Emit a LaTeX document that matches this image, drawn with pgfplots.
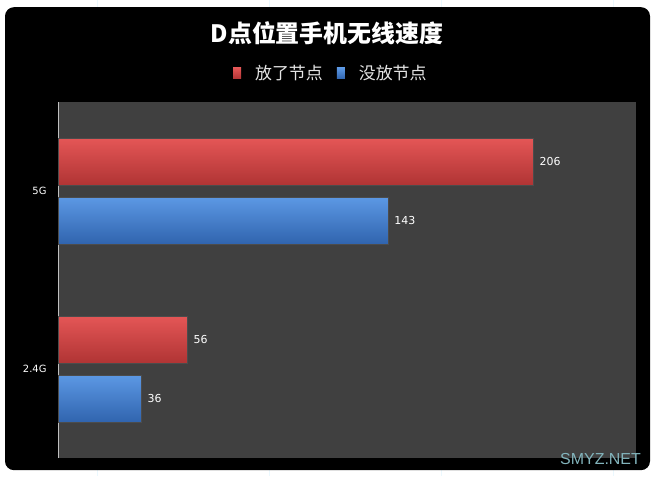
\documentclass[border=0pt]{standalone}
\usepackage{fontspec}
\setmainfont{DejaVu Sans}
\newfontfamily\cjk{Noto Sans CJK SC}
\newfontfamily\wmfont{Liberation Sans}
\usepackage{pgfplots}
\pgfplotsset{compat=1.18}
\definecolor{plotbg}{HTML}{404040}
\definecolor{redtop}{HTML}{E45656}
\definecolor{redmid}{HTML}{D64444}
\definecolor{redbot}{HTML}{B03434}
\definecolor{bluetop}{HTML}{5C98E4}
\definecolor{bluemid}{HTML}{4080D2}
\definecolor{bluebot}{HTML}{3064AE}
\definecolor{wmark}{HTML}{82B4BC}
\pgfplotsset{
    redbar/.style={bar shift=29.5bp, top color=redtop, middle color=redmid, bottom color=redbot, draw=black!70, line width=0.5pt},
    bluebar/.style={bar shift=-29.5bp, top color=bluetop, middle color=bluemid, bottom color=bluebot, draw=black!70, line width=0.5pt},
}
\begin{document}
\begin{tikzpicture}[x=1bp,y=1bp]
% sheet and chart area
\fill[white] (0,0) rectangle (655,476);
\foreach \gx in {97,269,441,613} \draw[cyan!8] (\gx,0) -- (\gx,476);
\fill[black, rounded corners=9bp] (5,6) rectangle (650,469);
\begin{axis}[
    at={(58bp,18bp)}, anchor=south west,
    scale only axis,
    width=578bp, height=356bp,
    xbar,
    xmin=0, xmax=250.6,
    ymin=-0.5, ymax=1.5,
    ytick={0,1},
    yticklabels={2.4G,5G},
    xtick=\empty,
    axis x line=none,
    axis y line*=left,
    y axis line style={black!25, line width=0.8pt},
    major tick length=0pt,
    yticklabel style={font=\fontsize{10}{12}\selectfont, white, xshift=-8bp},
    axis background/.style={fill=plotbg},
    bar width=47bp,
    /pgf/number format/assume math mode=true,
    nodes near coords,
    every node near coord/.append style={font=\fontsize{11}{13}\selectfont, white, xshift=3bp},
    legend style={at={(0.472,1.081)}, anchor=center, draw=none, fill=none,
        text=black!10, font=\cjk\fontsize{17}{20}\selectfont,
        legend columns=2, column sep=12bp},
    legend image code/.code={\path[#1, draw=none] (0bp,-5.5bp) rectangle (8bp,5.5bp);},
]
% one plot per bar so that each bar gets its own shading
\addplot[redbar] coordinates {(206,1)};
\addlegendentry{放了节点}
\addplot[bluebar] coordinates {(143,1)};
\addlegendentry{没放节点}
\addplot[redbar, forget plot] coordinates {(56,0)};
\addplot[bluebar, forget plot] coordinates {(36,0)};
\end{axis}
\node[white, font=\cjk\bfseries\fontsize{24}{27}\selectfont] at (327,443) {D点位置手机无线速度};
\node[wmark, font=\wmfont\fontsize{16}{18}\selectfont, anchor=south east, inner sep=0pt] at (641,11) {SMYZ.NET};
\end{tikzpicture}
\end{document}
